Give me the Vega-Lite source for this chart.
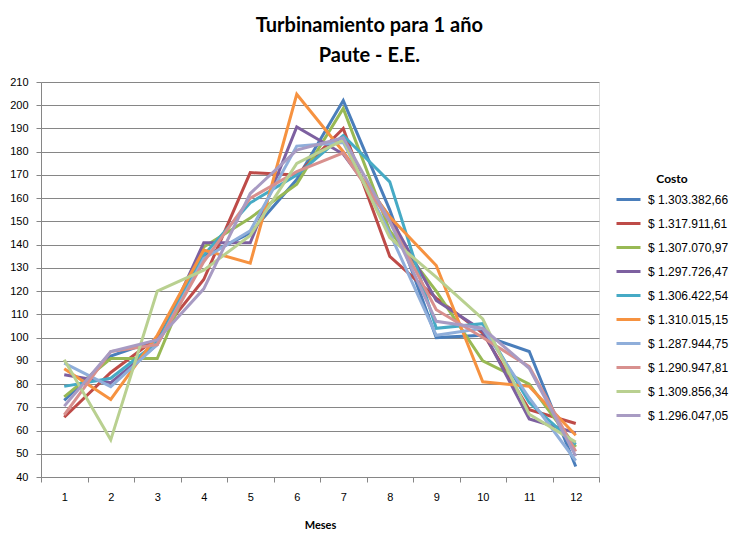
{
  "$schema": "https://vega.github.io/schema/vega-lite/v6.json",
  "width": 558,
  "height": 395,
  "autosize": {"type": "none"},
  "padding": {"left": 41, "top": 82, "right": 139, "bottom": 64},
  "background": "white",
  "title": {
    "text": ["Turbinamiento para 1 año", "Paute - E.E."],
    "font": "Lato",
    "fontSize": 20,
    "fontWeight": "bold",
    "color": "#000000",
    "anchor": "middle",
    "frame": "bounds",
    "lineHeight": 30,
    "offset": 10
  },
  "data": {
    "values": [
      {"mes": 1, "serie": "$ 1.303.382,66", "valor": 73},
      {"mes": 2, "serie": "$ 1.303.382,66", "valor": 92},
      {"mes": 3, "serie": "$ 1.303.382,66", "valor": 99},
      {"mes": 4, "serie": "$ 1.303.382,66", "valor": 135},
      {"mes": 5, "serie": "$ 1.303.382,66", "valor": 145},
      {"mes": 6, "serie": "$ 1.303.382,66", "valor": 168},
      {"mes": 7, "serie": "$ 1.303.382,66", "valor": 202},
      {"mes": 8, "serie": "$ 1.303.382,66", "valor": 155},
      {"mes": 9, "serie": "$ 1.303.382,66", "valor": 100},
      {"mes": 10, "serie": "$ 1.303.382,66", "valor": 101},
      {"mes": 11, "serie": "$ 1.303.382,66", "valor": 94},
      {"mes": 12, "serie": "$ 1.303.382,66", "valor": 44.5},

      {"mes": 1, "serie": "$ 1.317.911,61", "valor": 65.7},
      {"mes": 2, "serie": "$ 1.317.911,61", "valor": 85},
      {"mes": 3, "serie": "$ 1.317.911,61", "valor": 100},
      {"mes": 4, "serie": "$ 1.317.911,61", "valor": 125},
      {"mes": 5, "serie": "$ 1.317.911,61", "valor": 171},
      {"mes": 6, "serie": "$ 1.317.911,61", "valor": 170},
      {"mes": 7, "serie": "$ 1.317.911,61", "valor": 190},
      {"mes": 8, "serie": "$ 1.317.911,61", "valor": 135},
      {"mes": 9, "serie": "$ 1.317.911,61", "valor": 117},
      {"mes": 10, "serie": "$ 1.317.911,61", "valor": 102},
      {"mes": 11, "serie": "$ 1.317.911,61", "valor": 69},
      {"mes": 12, "serie": "$ 1.317.911,61", "valor": 63},

      {"mes": 1, "serie": "$ 1.307.070,97", "valor": 74.5},
      {"mes": 2, "serie": "$ 1.307.070,97", "valor": 91},
      {"mes": 3, "serie": "$ 1.307.070,97", "valor": 91},
      {"mes": 4, "serie": "$ 1.307.070,97", "valor": 139},
      {"mes": 5, "serie": "$ 1.307.070,97", "valor": 151.5},
      {"mes": 6, "serie": "$ 1.307.070,97", "valor": 166},
      {"mes": 7, "serie": "$ 1.307.070,97", "valor": 198.6},
      {"mes": 8, "serie": "$ 1.307.070,97", "valor": 146},
      {"mes": 9, "serie": "$ 1.307.070,97", "valor": 120},
      {"mes": 10, "serie": "$ 1.307.070,97", "valor": 90},
      {"mes": 11, "serie": "$ 1.307.070,97", "valor": 80},
      {"mes": 12, "serie": "$ 1.307.070,97", "valor": 53},

      {"mes": 1, "serie": "$ 1.297.726,47", "valor": 84},
      {"mes": 2, "serie": "$ 1.297.726,47", "valor": 80.6},
      {"mes": 3, "serie": "$ 1.297.726,47", "valor": 97},
      {"mes": 4, "serie": "$ 1.297.726,47", "valor": 140.8},
      {"mes": 5, "serie": "$ 1.297.726,47", "valor": 140.8},
      {"mes": 6, "serie": "$ 1.297.726,47", "valor": 190.7},
      {"mes": 7, "serie": "$ 1.297.726,47", "valor": 179},
      {"mes": 8, "serie": "$ 1.297.726,47", "valor": 152},
      {"mes": 9, "serie": "$ 1.297.726,47", "valor": 116},
      {"mes": 10, "serie": "$ 1.297.726,47", "valor": 103},
      {"mes": 11, "serie": "$ 1.297.726,47", "valor": 65},
      {"mes": 12, "serie": "$ 1.297.726,47", "valor": 59},

      {"mes": 1, "serie": "$ 1.306.422,54", "valor": 79},
      {"mes": 2, "serie": "$ 1.306.422,54", "valor": 82.5},
      {"mes": 3, "serie": "$ 1.306.422,54", "valor": 98},
      {"mes": 4, "serie": "$ 1.306.422,54", "valor": 135.5},
      {"mes": 5, "serie": "$ 1.306.422,54", "valor": 158},
      {"mes": 6, "serie": "$ 1.306.422,54", "valor": 170},
      {"mes": 7, "serie": "$ 1.306.422,54", "valor": 187},
      {"mes": 8, "serie": "$ 1.306.422,54", "valor": 167},
      {"mes": 9, "serie": "$ 1.306.422,54", "valor": 104},
      {"mes": 10, "serie": "$ 1.306.422,54", "valor": 106},
      {"mes": 11, "serie": "$ 1.306.422,54", "valor": 72},
      {"mes": 12, "serie": "$ 1.306.422,54", "valor": 54},

      {"mes": 1, "serie": "$ 1.310.015,15", "valor": 86.6},
      {"mes": 2, "serie": "$ 1.310.015,15", "valor": 73.4},
      {"mes": 3, "serie": "$ 1.310.015,15", "valor": 101},
      {"mes": 4, "serie": "$ 1.310.015,15", "valor": 137.7},
      {"mes": 5, "serie": "$ 1.310.015,15", "valor": 132},
      {"mes": 6, "serie": "$ 1.310.015,15", "valor": 204.7},
      {"mes": 7, "serie": "$ 1.310.015,15", "valor": 180},
      {"mes": 8, "serie": "$ 1.310.015,15", "valor": 152},
      {"mes": 9, "serie": "$ 1.310.015,15", "valor": 131},
      {"mes": 10, "serie": "$ 1.310.015,15", "valor": 81},
      {"mes": 11, "serie": "$ 1.310.015,15", "valor": 79},
      {"mes": 12, "serie": "$ 1.310.015,15", "valor": 58},

      {"mes": 1, "serie": "$ 1.287.944,75", "valor": 89},
      {"mes": 2, "serie": "$ 1.287.944,75", "valor": 78.9},
      {"mes": 3, "serie": "$ 1.287.944,75", "valor": 97},
      {"mes": 4, "serie": "$ 1.287.944,75", "valor": 134},
      {"mes": 5, "serie": "$ 1.287.944,75", "valor": 146},
      {"mes": 6, "serie": "$ 1.287.944,75", "valor": 182.4},
      {"mes": 7, "serie": "$ 1.287.944,75", "valor": 184},
      {"mes": 8, "serie": "$ 1.287.944,75", "valor": 145},
      {"mes": 9, "serie": "$ 1.287.944,75", "valor": 101},
      {"mes": 10, "serie": "$ 1.287.944,75", "valor": 104},
      {"mes": 11, "serie": "$ 1.287.944,75", "valor": 74},
      {"mes": 12, "serie": "$ 1.287.944,75", "valor": 47},

      {"mes": 1, "serie": "$ 1.290.947,81", "valor": 66.7},
      {"mes": 2, "serie": "$ 1.290.947,81", "valor": 94},
      {"mes": 3, "serie": "$ 1.290.947,81", "valor": 97},
      {"mes": 4, "serie": "$ 1.290.947,81", "valor": 132.6},
      {"mes": 5, "serie": "$ 1.290.947,81", "valor": 160},
      {"mes": 6, "serie": "$ 1.290.947,81", "valor": 171.4},
      {"mes": 7, "serie": "$ 1.290.947,81", "valor": 179.5},
      {"mes": 8, "serie": "$ 1.290.947,81", "valor": 150},
      {"mes": 9, "serie": "$ 1.290.947,81", "valor": 112},
      {"mes": 10, "serie": "$ 1.290.947,81", "valor": 100},
      {"mes": 11, "serie": "$ 1.290.947,81", "valor": 87.5},
      {"mes": 12, "serie": "$ 1.290.947,81", "valor": 51},

      {"mes": 1, "serie": "$ 1.309.856,34", "valor": 90.5},
      {"mes": 2, "serie": "$ 1.309.856,34", "valor": 56},
      {"mes": 3, "serie": "$ 1.309.856,34", "valor": 120},
      {"mes": 4, "serie": "$ 1.309.856,34", "valor": 129},
      {"mes": 5, "serie": "$ 1.309.856,34", "valor": 144},
      {"mes": 6, "serie": "$ 1.309.856,34", "valor": 175},
      {"mes": 7, "serie": "$ 1.309.856,34", "valor": 185},
      {"mes": 8, "serie": "$ 1.309.856,34", "valor": 143},
      {"mes": 9, "serie": "$ 1.309.856,34", "valor": 126},
      {"mes": 10, "serie": "$ 1.309.856,34", "valor": 108},
      {"mes": 11, "serie": "$ 1.309.856,34", "valor": 67},
      {"mes": 12, "serie": "$ 1.309.856,34", "valor": 55},

      {"mes": 1, "serie": "$ 1.296.047,05", "valor": 70.5},
      {"mes": 2, "serie": "$ 1.296.047,05", "valor": 94},
      {"mes": 3, "serie": "$ 1.296.047,05", "valor": 99},
      {"mes": 4, "serie": "$ 1.296.047,05", "valor": 121},
      {"mes": 5, "serie": "$ 1.296.047,05", "valor": 162},
      {"mes": 6, "serie": "$ 1.296.047,05", "valor": 180.7},
      {"mes": 7, "serie": "$ 1.296.047,05", "valor": 186},
      {"mes": 8, "serie": "$ 1.296.047,05", "valor": 150},
      {"mes": 9, "serie": "$ 1.296.047,05", "valor": 107},
      {"mes": 10, "serie": "$ 1.296.047,05", "valor": 104},
      {"mes": 11, "serie": "$ 1.296.047,05", "valor": 86.8},
      {"mes": 12, "serie": "$ 1.296.047,05", "valor": 49}
    ]
  },
  "mark": {"type": "line", "strokeWidth": 3, "strokeJoin": "miter"},
  "encoding": {
    "x": {
      "field": "mes",
      "type": "ordinal",
      "scale": {"type": "band", "paddingInner": 0, "paddingOuter": 0},
      "axis": {
        "title": "Meses",
        "titleFont": "Lato",
        "titleFontSize": 11,
        "titleFontWeight": "bold",
        "titleColor": "#000000",
        "titlePadding": 17,
        "labelAngle": 0,
        "labelFont": "Liberation Sans",
        "labelFontSize": 11,
        "labelColor": "#000000",
        "labelPadding": 9,
        "tickBand": "extent",
        "tickSize": 5,
        "tickColor": "#868686",
        "domainColor": "#868686",
        "grid": false
      }
    },
    "y": {
      "field": "valor",
      "type": "quantitative",
      "scale": {"domain": [40, 210], "nice": false, "zero": false},
      "axis": {
        "title": null,
        "values": [40, 50, 60, 70, 80, 90, 100, 110, 120, 130, 140, 150, 160, 170, 180, 190, 200, 210],
        "labelFont": "Liberation Sans",
        "labelFontSize": 11,
        "labelColor": "#000000",
        "labelPadding": 8,
        "tickSize": 5,
        "tickColor": "#868686",
        "domainColor": "#868686",
        "grid": true,
        "gridColor": "#868686",
        "gridWidth": 1
      }
    },
    "color": {
      "field": "serie",
      "type": "nominal",
      "sort": null,
      "scale": {
        "domain": ["$ 1.303.382,66", "$ 1.317.911,61", "$ 1.307.070,97", "$ 1.297.726,47", "$ 1.306.422,54", "$ 1.310.015,15", "$ 1.287.944,75", "$ 1.290.947,81", "$ 1.309.856,34", "$ 1.296.047,05"],
        "range": ["#4A7EBB", "#BE4B48", "#98B954", "#7D60A0", "#46AAC5", "#F69240", "#8FAEDA", "#D8908E", "#B9D090", "#A89BC3"]
      },
      "legend": {
        "title": "Costo",
        "titleFont": "Lato",
        "titleFontSize": 12,
        "titleFontWeight": "bold",
        "titleColor": "#000000",
        "titlePadding": 0,
        "titleAnchor": "middle",
        "orient": "none",
        "legendX": 574,
        "legendY": 92,
        "symbolType": "stroke",
        "symbolSize": 576,
        "symbolStrokeWidth": 3,
        "rowPadding": 4,
        "labelFont": "Liberation Sans",
        "labelFontSize": 12,
        "labelColor": "#000000",
        "labelOffset": 6
      }
    }
  }
}
